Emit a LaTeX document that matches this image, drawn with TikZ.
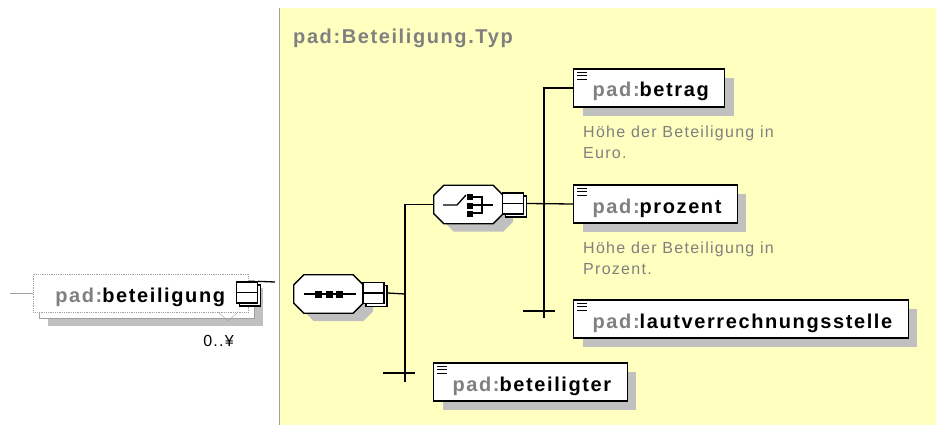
\documentclass[tikz,border=0pt]{standalone}
\usepackage{fontspec}
\setmainfont{Liberation Sans}[LetterSpace=8]
\usetikzlibrary{shadows}

\definecolor{typeyellow}{HTML}{FFFFC0}
\definecolor{prefixgray}{HTML}{808080}
\definecolor{shadowgray}{HTML}{C0C0C0}
\definecolor{framegray}{HTML}{A0A0A0}

\newcommand{\padname}[1]{\textcolor{prefixgray}{pad:}#1}
% octagon outline round a compositor node
\newcommand{\chamferpath}[1]{([xshift=10pt]#1.north west) -- ([xshift=-10pt]#1.north east)
  -- ([yshift=-10pt]#1.north east) -- ([yshift=10pt]#1.south east)
  -- ([xshift=-10pt]#1.south east) -- ([xshift=10pt]#1.south west)
  -- ([yshift=10pt]#1.south west) -- ([yshift=-10pt]#1.north west) -- cycle}

\tikzset{
  elem/.style={draw, line width=1.3pt, fill=white, anchor=west,
    inner xsep=16pt, inner ysep=0pt, text height=28pt, text depth=10pt,
    font=\bfseries\fontsize{20}{24}\selectfont,
    drop shadow={shadow xshift=9pt, shadow yshift=-9pt, fill=shadowgray, opacity=1}},
  optelem/.style={draw=framegray, densely dotted, line width=0.8pt, fill=white, anchor=west,
    inner sep=0pt, text width=215pt, text height=28pt, text depth=10pt,
    font=\bfseries\fontsize{20}{24}\selectfont},
  compositor/.style={inner sep=0pt, minimum width=69pt, minimum height=38pt},
  minusbox/.style={draw, line width=1.3pt, fill=white, inner sep=0pt, minimum size=21pt,
    drop shadow={shadow xshift=3pt, shadow yshift=-3pt, fill=white, draw=black, opacity=1},
    path picture={\draw[line width=1.3pt] (path picture bounding box.west) -- (path picture bounding box.east);}},
  wire/.style={line width=1.3pt},
  descr/.style={anchor=north west, inner sep=0pt, align=left, text=prefixgray,
    font=\fontsize{16}{21}\selectfont}
}

\begin{document}
\begin{tikzpicture}[x=1pt, y=-1pt]
  \useasboundingbox (0,0) rectangle (936,425);

  % --- complex type panel ---
  \fill[typeyellow] (279,8) rectangle (936,425);
  \draw[framegray, line width=1pt] (279,8) -- (279,425);
  \node[anchor=base west, inner sep=0pt, text=prefixgray, font=\bfseries\fontsize{20}{24}\selectfont]
      (typename) at (293,44) {pad:Beteiligung.Typ};

  % --- element pad:beteiligung (0..unbounded) ---
  \fill[shadowgray] (48,288) rectangle (263,326);
  \draw[framegray, fill=white] (39,280) rectangle (254,318);
  \node[optelem] (beteiligung) at (33,293) {\noindent\hspace*{22pt}\padname{beteiligung}};
  \draw[framegray] (218,312) -- (228,321) -- (238,312);
  \node[minusbox] (lmin) at (247,292.5) {};
  \node[anchor=base east, inner sep=0pt, font=\fontsize{16}{20}\selectfont] (occurs) at (234,346) {0..¥};
  \coordinate (elemin) at (10,293);
  \coordinate (typein) at (275,282);
  \draw[framegray] (elemin) -- (beteiligung.west);
  \draw[wire] (lmin.north east) -- (typein);

  % --- sequence ---
  \node[compositor] (seq) at (328.5,294) {};
  \fill[shadowgray, transform canvas={shift={(10pt,-8pt)}}] \chamferpath{seq};
  \draw[wire, fill=white] \chamferpath{seq};
  \node[minusbox] (seqmin) at (373.5,293) {};
  \draw[wire] (304,294) -- (356,294);
  \foreach \x in {318.5,329.5,339.5}
    \fill (\x-3.5,290.5) rectangle (\x+3.5,297.5);

  % --- choice ---
  \node[compositor] (choice) at (468.5,204.5) {};
  \fill[shadowgray, transform canvas={shift={(10pt,-8pt)}}] \chamferpath{choice};
  \draw[wire, fill=white] \chamferpath{choice};
  \node[minusbox] (chmin) at (513,203.5) {};
  \draw[wire] (443,205) -- (457,205) -- (466,195);
  \foreach \y in {197,205.5,214}
    \fill (467,\y-3) rectangle (473,\y+3);
  \draw[wire] (473,197) -| (482,213) -- (473,213);
  \draw[wire] (473,205) -- (493,205);

  % --- child elements ---
  \node[elem] (betrag) at (573,88) {\kern3pt\padname{betrag}};
  \node[elem] (prozent) at (573,204) {\kern3pt\padname{prozent}};
  \node[elem] (lautv) at (573,319) {\kern3pt\padname{lautverrechnungsstelle}};
  \node[elem] (beteiligter) at (433,382) {\kern3pt\padname{beteiligter}};
  \foreach \n in {betrag,prozent,lautv,beteiligter}
    \foreach \k in {4,7.5,11}
      \draw[line width=1.2pt] ([xshift=4pt,yshift=-\k pt]\n.north west) -- ++(10,0);

  \node[descr] (betragdoc) at (583,126) {Höhe der Beteiligung in\\Euro.};
  \node[descr] (prozentdoc) at (583,242) {Höhe der Beteiligung in\\Prozent.};

  % --- connectors ---
  \coordinate (seqbus) at (405,294);
  \coordinate (seqend) at (405,382);
  \coordinate (chend) at (544,318);
  \draw[wire] ([xshift=3pt]seqmin.east) -- (seqbus);
  \draw[wire] (choice.west) -| (seqend);
  \draw[wire] (383,373) -- (415,373);
  \draw[wire] ([xshift=3pt]chmin.east) -- (prozent.west);
  \draw[wire] (betrag.west) -| (chend);
  \draw[wire] (523,311) -- (555,311);

\end{tikzpicture}
\end{document}
